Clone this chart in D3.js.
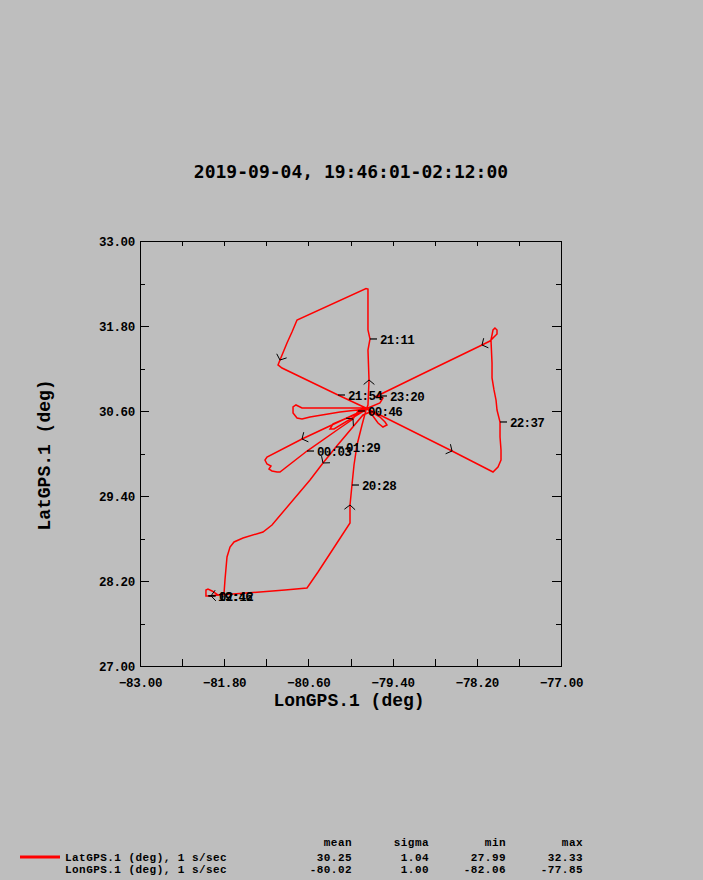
<!DOCTYPE html>
<html>
<head>
<meta charset="utf-8">
<script src="https://cdn.jsdelivr.net/npm/d3@7"></script>
<style>
  html, body { margin: 0; padding: 0; background: #bebebe; }
  svg { display: block; }
</style>
</head>
<body>
<script>
// ---------------- DATA ----------------
const title = "2019-09-04, 19:46:01-02:12:00";
const xLabel = "LonGPS.1 (deg)";
const yLabel = "LatGPS.1 (deg)";

const xMajor = [-83.0, -81.8, -80.6, -79.4, -78.2, -77.0];
const xMinor = [-82.4, -81.2, -80.0, -78.8, -77.6];
const yMajor = [27.0, 28.2, 29.4, 30.6, 31.8, 33.0];
const yMinor = [27.6, 28.8, 30.0, 31.2, 32.4];

// flight track (longitude, latitude) and per-point tags ("" / "A" = direction arrow / time label)
const lon = [
  -82.031, -81.860, -81.675, -81.290, -80.933, -80.620, -80.463, -80.221, -80.007, -80.007,
  -79.979, -79.950, -79.907, -79.836, -79.779, -79.751, -79.736, -79.751, -79.722, -79.751,
  -79.751, -79.779, -80.762, -80.834, -80.905, -81.005, -81.033, -80.976, -80.178, -79.751,
  -78.553, -77.969, -77.898, -77.855, -77.855, -77.869, -77.869, -77.912, -77.926, -77.955,
  -77.983, -77.983, -77.998, -77.983, -77.969, -77.941, -77.912, -77.912, -77.955, -78.012,
  -78.126, -79.009, -79.651, -79.580, -79.537, -79.580, -79.751, -80.150, -80.691, -80.777,
  -80.819, -80.819, -80.762, -80.691, -80.577, -80.150, -79.779, -80.691, -81.190, -81.219,
  -81.190, -81.133, -81.162, -81.119, -81.047, -81.005, -80.620, -80.150, -79.964, -79.893,
  -79.779, -80.249, -80.292, -80.235, -79.765, -79.580, -79.508, -79.480, -79.537, -79.608,
  -79.722, -79.822, -80.207, -80.392, -80.577, -81.119, -81.247, -81.532, -81.660, -81.717,
  -81.760, -81.789, -81.803, -81.888, -81.988, -82.060, -82.060, -82.031, -81.974, -81.888,
  -82.017
];
const lat = [
  27.990, 28.002, 28.017, 28.045, 28.073, 28.101, 28.327, 28.694, 29.019, 29.273,
  29.555, 29.838, 30.120, 30.402, 30.614, 30.685, 31.038, 31.461, 31.617, 31.744,
  32.322, 32.330, 31.885, 31.715, 31.560, 31.320, 31.250, 31.207, 30.826, 30.628,
  30.035, 29.739, 29.810, 29.908, 30.050, 30.233, 30.445, 30.614, 30.755, 30.897,
  31.066, 31.278, 31.603, 31.673, 31.744, 31.772, 31.744, 31.687, 31.645, 31.588,
  31.532, 31.108, 30.798, 30.812, 30.784, 30.713, 30.642, 30.642, 30.642, 30.685,
  30.657, 30.572, 30.501, 30.487, 30.515, 30.586, 30.628, 30.205, 29.951, 29.908,
  29.852, 29.824, 29.781, 29.753, 29.739, 29.739, 30.035, 30.360, 30.487, 30.600,
  30.614, 30.417, 30.346, 30.346, 30.628, 30.515, 30.445, 30.402, 30.374, 30.431,
  30.586, 30.544, 30.092, 29.866, 29.626, 28.991, 28.892, 28.807, 28.751, 28.680,
  28.539, 28.214, 28.017, 28.002, 27.990, 27.990, 28.073, 28.087, 28.059, 28.002,
  27.990
];
const tags = [
  "19:46", "", "", "", "", "", "", "", "", "A",
  "20:28", "", "", "", "", "", "A", "", "21:11", "",
  "", "", "", "", "", "A", "", "", "21:54", "",
  "A", "", "", "", "", "", "22:37", "", "", "",
  "", "", "", "", "", "", "", "", "", "",
  "A", "", "", "23:20", "", "", "", "", "", "",
  "", "", "", "", "", "", "", "A", "", "",
  "", "", "", "", "", "", "00:03", "", "A", "00:46",
  "", "", "", "", "", "", "", "", "", "",
  "", "", "01:29", "A", "", "", "", "", "", "",
  "", "", "", "", "A", "", "", "", "", "",
  "02:12"
];

// statistics legend
const statHeaders = ["mean", "sigma", "min", "max"];
const seriesNames = ["LatGPS.1 (deg), 1 s/sec", "LonGPS.1 (deg), 1 s/sec"];
const statValues = [
  ["30.25", "1.04", "27.99", "32.33"],
  ["-80.02", "1.00", "-82.06", "-77.85"]
];

// ---------------- DRAW ----------------
const W = 703, H = 880;
const L = 140, R = 561, T = 241, B = 666;
const MONO = "'Liberation Mono', 'DejaVu Sans Mono', monospace";

const svg = d3.select("body").append("svg").attr("width", W).attr("height", H);
svg.append("rect").attr("width", W).attr("height", H).attr("fill", "#bebebe");

const x = d3.scaleLinear().domain([-83, -77]).range([L, R]);
const y = d3.scaleLinear().domain([27, 33]).range([B, T]);
const fmt = d3.format(".2f");

function styleAxis(g) {
  g.select(".domain").remove();
  g.selectAll("line").attr("stroke", "#000").attr("shape-rendering", "crispEdges");
  g.attr("font-family", MONO).attr("font-size", 12.5).attr("font-weight", "bold");
  g.selectAll("text").attr("fill", "#000").attr("letter-spacing", -0.3);
}

// bottom
svg.append("g").attr("transform", `translate(0,${B})`)
  .call(d3.axisBottom(x).tickValues(xMajor).tickSize(-7).tickPadding(12).tickFormat(fmt)).call(styleAxis);
svg.append("g").attr("transform", `translate(0,${B})`)
  .call(d3.axisBottom(x).tickValues(xMinor).tickSize(-7).tickFormat("")).call(styleAxis);
// top
svg.append("g").attr("transform", `translate(0,${T})`)
  .call(d3.axisTop(x).tickValues(xMajor.concat(xMinor)).tickSize(-5).tickFormat("")).call(styleAxis);
// left
svg.append("g").attr("transform", `translate(${L},0)`)
  .call(d3.axisLeft(y).tickValues(yMajor).tickSize(-9).tickPadding(5).tickFormat(fmt)).call(styleAxis);
svg.append("g").attr("transform", `translate(${L},0)`)
  .call(d3.axisLeft(y).tickValues(yMinor).tickSize(-5).tickFormat("")).call(styleAxis);
// right
svg.append("g").attr("transform", `translate(${R},0)`)
  .call(d3.axisRight(y).tickValues(yMajor).tickSize(-9).tickFormat("")).call(styleAxis);
svg.append("g").attr("transform", `translate(${R},0)`)
  .call(d3.axisRight(y).tickValues(yMinor).tickSize(-5).tickFormat("")).call(styleAxis);

// frame
svg.append("rect").attr("x", L + 0.5).attr("y", T + 0.5).attr("width", R - L).attr("height", B - T)
  .attr("fill", "none").attr("stroke", "#000").attr("stroke-width", 1).attr("shape-rendering", "crispEdges");

// track
const idx = d3.range(lon.length);
const line = d3.line().x(i => x(lon[i])).y(i => y(lat[i]));
svg.append("path").attr("d", line(idx)).attr("fill", "none")
  .attr("stroke", "#ff0000").attr("stroke-width", 1.5).attr("stroke-linejoin", "miter");

// arrows
const arrowG = svg.append("g").attr("stroke", "#000").attr("stroke-width", 1).attr("fill", "none");
idx.filter(i => tags[i] === "A").forEach(i => {
  const px = x(lon[i]), py = y(lat[i]);
  const dx = x(lon[i + 1]) - x(lon[i - 1]);
  const dy = y(lat[i + 1]) - y(lat[i - 1]);
  const back = Math.atan2(-dy, -dx);
  const a = 50 * Math.PI / 180, len = 7;
  const p1 = [px + len * Math.cos(back + a), py + len * Math.sin(back + a)];
  const p2 = [px + len * Math.cos(back - a), py + len * Math.sin(back - a)];
  arrowG.append("path").attr("d", `M${p1[0]},${p1[1]}L${px},${py}L${p2[0]},${p2[1]}`);
});

// time labels
const labG = svg.append("g");
idx.filter(i => tags[i] && tags[i] !== "A").forEach(i => {
  const px = x(lon[i]), py = y(lat[i]);
  labG.append("line").attr("x1", px).attr("y1", py).attr("x2", px + 7).attr("y2", py)
    .attr("stroke", "#000").attr("stroke-width", 1.2);
  labG.append("text").attr("x", px + 10).attr("y", py + 5).text(tags[i])
    .attr("font-family", MONO).attr("font-weight", "bold").attr("font-size", 12.5)
    .attr("letter-spacing", -0.7).attr("fill", "#000");
});

// title
svg.append("text").attr("x", 351).attr("y", 178).attr("text-anchor", "middle")
  .attr("font-family", "'DejaVu Sans Mono', monospace").attr("font-weight", "bold")
  .attr("font-size", 18).attr("fill", "#000").text(title);

// axis titles
svg.append("text").attr("x", 349).attr("y", 706).attr("text-anchor", "middle")
  .attr("font-family", MONO).attr("font-weight", "bold").attr("font-size", 18).attr("fill", "#000").text(xLabel);
svg.append("text").attr("transform", "translate(50,455) rotate(-90)").attr("text-anchor", "middle")
  .attr("font-family", MONO).attr("font-weight", "bold").attr("font-size", 18).attr("fill", "#000").text(yLabel);

// legend / statistics
const colRight = [352, 429, 506, 583];
const lg = svg.append("g").attr("font-family", MONO).attr("font-weight", "bold")
  .attr("font-size", 11).attr("letter-spacing", 0.45).attr("fill", "#000");
statHeaders.forEach((h, j) => lg.append("text").attr("x", colRight[j]).attr("y", 846).attr("text-anchor", "end").text(h));
seriesNames.forEach((n, r) => {
  const yy = 861 + r * 12;
  lg.append("text").attr("x", 65).attr("y", yy).text(n);
  statValues[r].forEach((v, j) => lg.append("text").attr("x", colRight[j]).attr("y", yy).attr("text-anchor", "end").text(v));
});
svg.append("line").attr("x1", 20).attr("x2", 60).attr("y1", 857).attr("y2", 857)
  .attr("stroke", "#ff0000").attr("stroke-width", 3);
</script>
</body>
</html>
